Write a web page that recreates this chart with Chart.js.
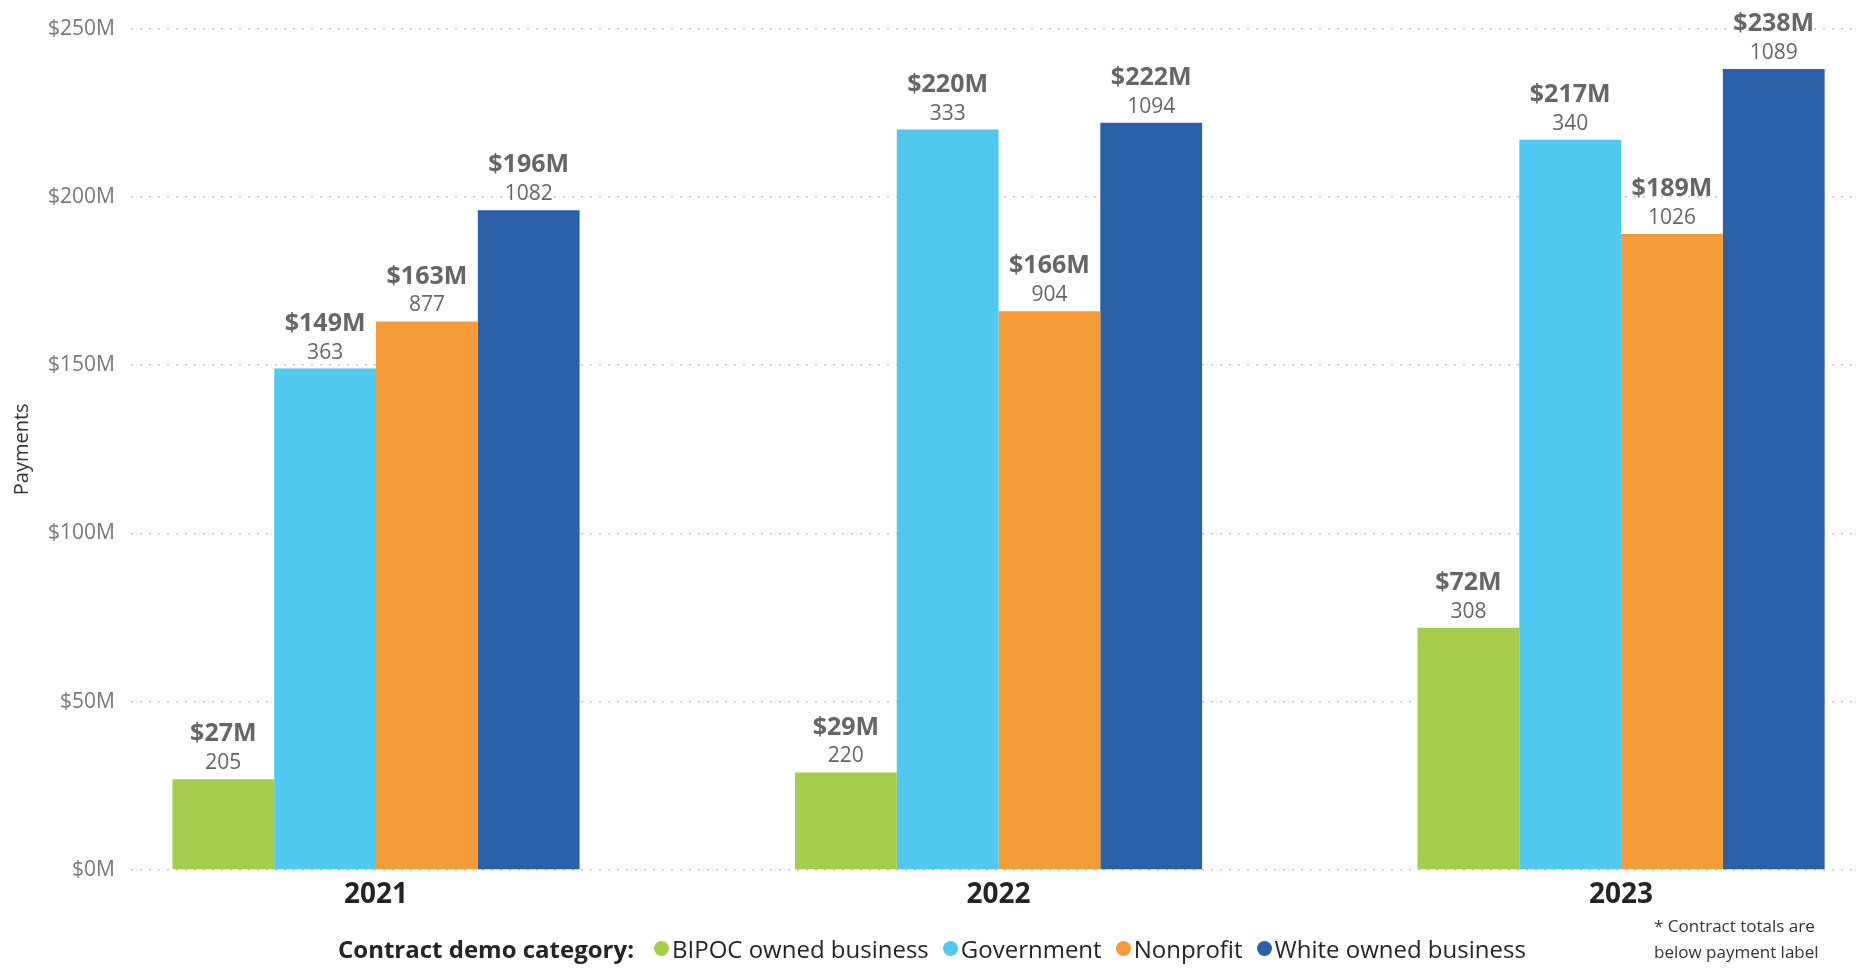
<!DOCTYPE html>
<html>
<head>
<meta charset="utf-8">
<script src="https://cdn.jsdelivr.net/npm/chart.js@4.4.1/dist/chart.umd.min.js"></script>
<style>
  html, body { margin: 0; padding: 0; background: #fff; }
  #wrap { position: relative; width: 1866px; height: 968px; font-family: "Segoe UI", "Open Sans", sans-serif; }
  #legend { position: absolute; left: 338px; top: 932px; display: flex; align-items: center; font-size: 24px; color: #252423; white-space: nowrap; }
  #legend .title { font-weight: bold; margin-right: 20px; }
  #legend .item { display: flex; align-items: center; margin-right: 14px; }
  #legend .dot { width: 15px; height: 15px; border-radius: 50%; margin-right: 3px; }
  #note { position: absolute; left: 1654px; top: 913px; font-size: 17px; line-height: 26px; color: #333; }
</style>
</head>
<body>
<div id="wrap">
  <canvas id="chart" width="1866" height="968"></canvas>
  <div id="legend"><span class="title">Contract demo category:</span></div>
  <div id="note">* Contract totals are<br>below payment label</div>
</div>
<script>
const FONT = '"Segoe UI", "Open Sans", sans-serif';

const years = ['2021', '2022', '2023'];
const seriesNames = ['BIPOC owned business', 'Government', 'Nonprofit', 'White owned business'];
const colors = ['#A3CD4A', '#50C8F0', '#F49A36', '#2960A9'];

// payments, $M
const bipocPay = [27, 29, 72];
const govPay = [149, 220, 217];
const nonprofitPay = [163, 166, 189];
const whitePay = [196, 222, 238];

// number of contracts (shown under the payment label)
const bipocCount = [205, 220, 308];
const govCount = [363, 333, 340];
const nonprofitCount = [877, 904, 1026];
const whiteCount = [1082, 1094, 1089];

const yTicks = [0, 50, 100, 150, 200, 250];

const pays = [bipocPay, govPay, nonprofitPay, whitePay];
const counts = [bipocCount, govCount, nonprofitCount, whiteCount];

const datasets = seriesNames.map((name, s) => ({
  label: name,
  data: pays[s].map((v, i) => ({ x: i, y: v })),
  counts: counts[s],
  backgroundColor: colors[s],
  borderWidth: 0,
  categoryPercentage: 0.654,
  barPercentage: 1,
}));

// payment + contract count above each bar
const barLabels = {
  id: 'barLabels',
  afterDatasetsDraw(chart) {
    const ctx = chart.ctx;
    ctx.save();
    ctx.textAlign = 'center';
    ctx.textBaseline = 'middle';
    ctx.fillStyle = '#666';
    chart.data.datasets.forEach((ds, di) => {
      chart.getDatasetMeta(di).data.forEach((bar, i) => {
        ctx.font = 'bold 25px ' + FONT;
        ctx.fillText('$' + ds.data[i].y + 'M', bar.x, bar.y - 45);
        ctx.font = '21px ' + FONT;
        ctx.fillText(ds.counts[i], bar.x, bar.y - 16);
      });
    });
    ctx.restore();
  },
};

new Chart(document.getElementById('chart'), {
  type: 'bar',
  data: { datasets },
  plugins: [barLabels],
  options: {
    responsive: false,
    animation: false,
    devicePixelRatio: 1,
    layout: { padding: { top: 27, right: 9, bottom: 0, left: 0 } },
    plugins: { legend: { display: false }, tooltip: { enabled: false } },
    scales: {
      x: {
        type: 'linear',
        bounds: 'data',
        offset: false,
        min: -0.3936,
        max: 2.379,
        afterFit: s => { s.height = 98; },
        afterBuildTicks: s => { s.ticks = years.map((y, i) => ({ value: i })); },
        grid: { display: false, drawTicks: false },
        border: { display: false },
        ticks: {
          autoSkip: false,
          padding: 8,
          color: '#252423',
          font: { family: FONT, size: 28, weight: 'bold' },
          callback: v => years[v],
        },
      },
      y: {
        min: yTicks[0],
        max: yTicks[yTicks.length - 1],
        afterFit: s => { s.width = 131; },
        afterBuildTicks: s => { s.ticks = yTicks.map(v => ({ value: v })); },
        grid: { color: '#c8c8c8', lineWidth: 1.5, drawTicks: false },
        border: { display: false, dash: [2, 7] },
        ticks: {
          padding: 16,
          color: '#777',
          font: { family: FONT, size: 21 },
          callback: v => '$' + v + 'M',
        },
        title: {
          display: true,
          text: 'Payments',
          color: '#333',
          padding: { top: 10, bottom: 0 },
          font: { family: FONT, size: 20 },
        },
      },
    },
  },
});

const legend = document.getElementById('legend');
seriesNames.forEach((name, s) => {
  const item = document.createElement('span');
  item.className = 'item';
  item.innerHTML = '<span class="dot" style="background:' + colors[s] + '"></span>' + name;
  legend.appendChild(item);
});
</script>
</body>
</html>
